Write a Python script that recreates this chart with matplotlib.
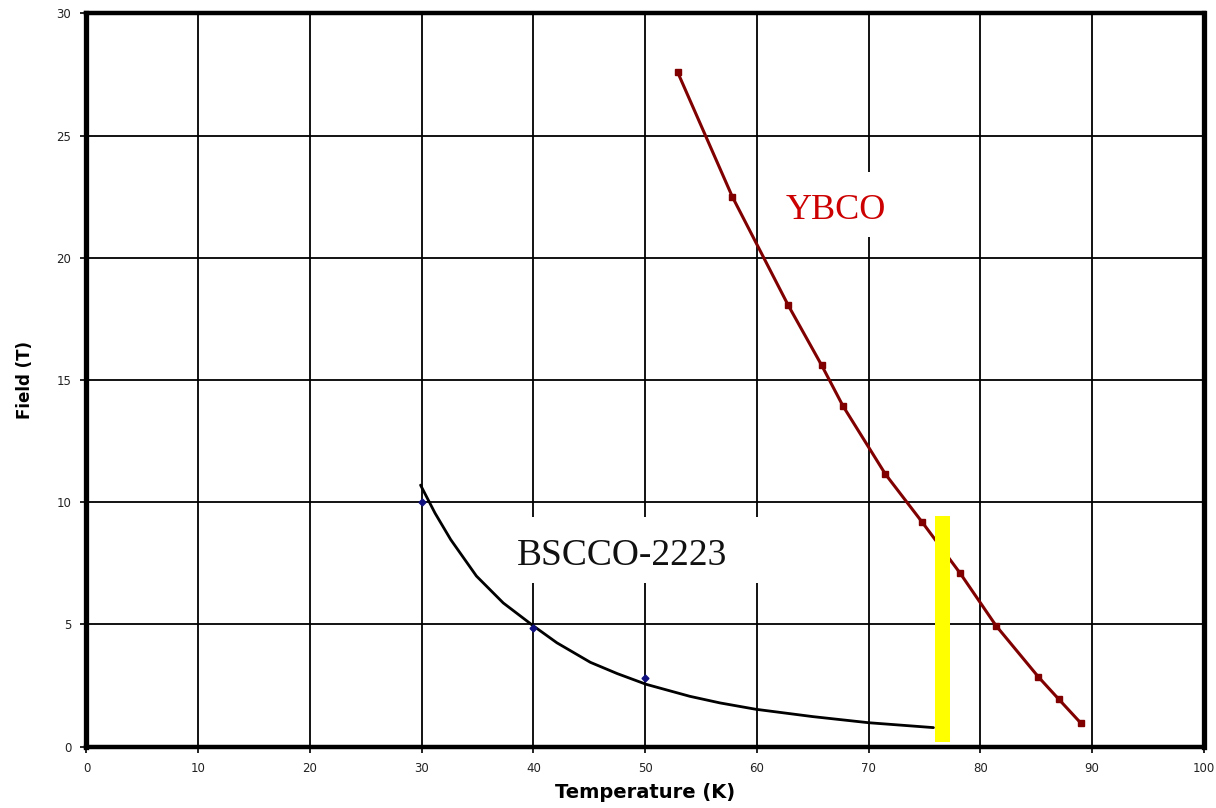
import matplotlib
matplotlib.use("Agg")
import matplotlib.pyplot as plt
from matplotlib.patches import Rectangle

# YBCO measured irreversibility field points
ybco_t = [52.9, 57.8, 62.8, 65.8, 67.7, 71.5, 74.8, 78.2, 81.4, 85.2, 87.0, 89.0]
ybco_b = [27.6, 22.5, 18.06, 15.6, 13.94, 11.15, 9.18, 7.09, 4.95, 2.85, 1.95, 0.96]

# BSCCO-2223 measured points
bscco_t = [30, 40, 50]
bscco_b = [10.0, 4.85, 2.82]

# BSCCO-2223 trend curve
bscco_fit_t = [29.9, 31.2, 32.6, 34.9, 37.3, 40.0, 42.1, 45.1, 47.5, 50.1, 54.0, 56.7, 59.9, 65.0, 70.0, 75.8]
bscco_fit_b = [10.7, 9.55, 8.47, 6.98, 5.88, 4.94, 4.25, 3.45, 2.99, 2.55, 2.06, 1.79, 1.53, 1.23, 0.98, 0.78]

# Liquid-nitrogen operating band
ln2_center = 76.6
ln2_width = 1.4
ln2_low = 0.2
ln2_high = 9.45

x_ticks = [0, 10, 20, 30, 40, 50, 60, 70, 80, 90, 100]
y_ticks = [0, 5, 10, 15, 20, 25, 30]

fig = plt.figure(figsize=(12.16, 8.08), dpi=100)
ax = fig.add_axes([0.0711, 0.0759, 0.9189, 0.9076])

ax.set_xlim(0, 100)
ax.set_ylim(0, 30)
ax.set_xticks(x_ticks)
ax.set_yticks(y_ticks)
ax.grid(True, color="black", linewidth=1.3, zorder=0)
ax.set_axisbelow(True)

for side, lw in {"left": 3.8, "right": 3.8, "top": 3.2, "bottom": 3.2}.items():
    ax.spines[side].set_linewidth(lw)
    ax.spines[side].set_color("black")

ax.tick_params(direction="out", length=4, width=1.2, color="black",
               labelsize=8.5, labelcolor="#222222", pad=7)

ax.plot(bscco_fit_t, bscco_fit_b, color="black", linewidth=2.0,
        solid_joinstyle="round", solid_capstyle="round", zorder=3)
ax.plot(bscco_t, bscco_b, linestyle="none", marker="D", markersize=3.5,
        color="#101080", zorder=4)

ax.plot(ybco_t, ybco_b, color="#800000", linewidth=2.2, marker="s",
        markersize=5, zorder=3)

ax.bar([ln2_center], [ln2_high - ln2_low], bottom=ln2_low, width=ln2_width,
       color="#ffff00", edgecolor="none", zorder=5)

# white label boxes that mask the grid behind the annotations
ax.add_patch(Rectangle((37.5, 6.7), 23.5, 2.7, facecolor="white",
                       edgecolor="none", zorder=2))
ax.add_patch(Rectangle((61.5, 20.85), 11.5, 2.65, facecolor="white",
                       edgecolor="none", zorder=2))

ax.text(47.9, 7.8, "BSCCO-2223", family="Liberation Serif", fontsize=27,
        color="#111111", ha="center", va="center", zorder=6)
ax.text(67.1, 21.95, "YBCO", family="Liberation Serif", fontsize=26,
        color="#cc0000", ha="center", va="center", zorder=6)

ax.set_xlabel("Temperature (K)", fontsize=14, fontweight="bold", labelpad=6)
ax.set_ylabel("Field (T)", fontsize=12, fontweight="bold", labelpad=16)

fig.savefig("out.png", dpi=100, facecolor="white")
